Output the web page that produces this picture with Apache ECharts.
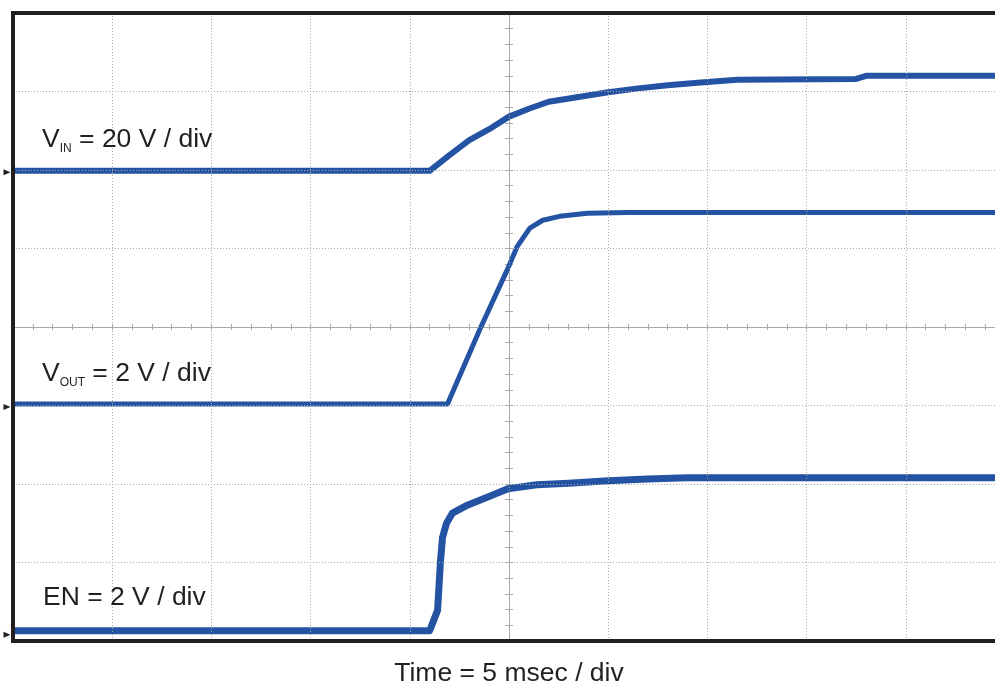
<!DOCTYPE html>
<html>
<head>
<meta charset="utf-8">
<script src="https://cdn.jsdelivr.net/npm/echarts@6/dist/echarts.min.js"></script>
<style>
  html, body { margin: 0; padding: 0; background: #ffffff; }
  #chart { width: 995px; height: 686px; }
</style>
</head>
<body>
<div id="chart"></div>
<script>
// ---- data (time in ms, values in volts) ----
const vinT  = [0, 21.0, 22.0, 23.0, 24.0, 25.0, 26.0, 27.0, 28.5, 30.0, 31.5, 33.0, 34.5, 36.5, 42.5, 43.0, 50];
const vinV  = [0.4, 0.4, 4.4, 8.2, 11.0, 14.2, 16.2, 18.0, 19.2, 20.4, 21.4, 22.2, 22.8, 23.6, 23.8, 24.6, 24.6];

const voutT = [0, 21.9, 23.55, 24.95, 25.4, 26.05, 26.7, 27.55, 28.95, 31.0, 50];
const voutV = [0.08, 0.08, 2.0, 3.54, 4.08, 4.56, 4.76, 4.86, 4.94, 4.96, 4.96];

const enT   = [0, 21.0, 21.4, 21.55, 21.65, 21.85, 22.15, 22.9, 23.9, 24.95, 26.4, 28.0, 30.0, 32.0, 34.0, 50];
const enV   = [0.1, 0.1, 0.62, 1.9, 2.48, 2.84, 3.1, 3.3, 3.5, 3.72, 3.82, 3.86, 3.92, 3.97, 4.0, 4.0];

// channel reference levels (screen divisions) and scales (V / div)
const channelNames  = ['VIN', 'VOUT', 'EN'];
const channelRefDiv = [5.97, 2.98, 0.08];
const channelVPerDiv = [20, 2, 2];

const timePerDiv = 5;      // ms / div
const timeDivs = 10;
const voltDivs = 8;
const xTitle = 'Time = 5 msec / div';

// ---- build ----
function build(t, v, ci) {
  return t.map((tt, i) => [tt, channelRefDiv[ci] + v[i] / channelVPerDiv[ci]]);
}
const traces = [build(vinT, vinV, 0), build(voutT, voutV, 1), build(enT, enV, 2)];

const traceColor = '#2453a4';
const frameColor = '#231f20';
const gridGray = '#a9a9a9';
const font = '"Liberation Sans", Arial, Helvetica, sans-serif';

const GRID = { left: 13, top: 13, width: 992, height: 628 };

const hiddenAxisBits = {
  axisLabel: { show: false },
  splitLine: { show: false }
};

const option = {
  animation: false,
  backgroundColor: '#ffffff',
  grid: {
    left: GRID.left, top: GRID.top, width: GRID.width, height: GRID.height,
    show: false, containLabel: false, outerBoundsMode: 'none'
  },
  xAxis: [
    { // main: dotted grid, bottom frame, title
      type: 'value', min: 0, max: timePerDiv * timeDivs, interval: timePerDiv,
      position: 'bottom', z: 10,
      axisLine: { show: true, onZero: false, lineStyle: { color: frameColor, width: 4, cap: 'square' } },
      axisTick: { show: false }, axisLabel: { show: false },
      splitLine: { show: true, lineStyle: { color: gridGray, width: 1, type: [1, 2] } },
      name: xTitle, nameLocation: 'middle', nameGap: 19,
      nameTextStyle: { fontSize: 26.5, color: frameColor, fontFamily: font }
    },
    { // top frame
      type: 'value', min: 0, max: timePerDiv * timeDivs, position: 'top', z: 10,
      axisLine: { show: true, onZero: false, lineStyle: { color: frameColor, width: 4, cap: 'square' } },
      axisTick: { show: false }, ...hiddenAxisBits
    },
    { // horizontal centre line, ticks inside (up)
      type: 'value', min: 0, max: timePerDiv * timeDivs, interval: 1, position: 'bottom', offset: -GRID.height / 2,
      axisLine: { show: true, onZero: false, lineStyle: { color: gridGray, width: 1 } },
      axisTick: { show: true, inside: true, length: 3, lineStyle: { color: gridGray, width: 1 } },
      ...hiddenAxisBits
    },
    { // horizontal centre line, ticks outside (down)
      type: 'value', min: 0, max: timePerDiv * timeDivs, interval: 1, position: 'bottom', offset: -GRID.height / 2,
      axisLine: { show: false, onZero: false },
      axisTick: { show: true, inside: false, length: 3, lineStyle: { color: gridGray, width: 1 } },
      ...hiddenAxisBits
    }
  ],
  yAxis: [
    { // main: dotted grid, left frame
      type: 'value', min: 0, max: voltDivs, interval: 1, position: 'left', z: 10,
      axisLine: { show: true, onZero: false, lineStyle: { color: frameColor, width: 4, cap: 'square' } },
      axisTick: { show: false }, axisLabel: { show: false },
      splitLine: { show: true, lineStyle: { color: gridGray, width: 1, type: [1, 2] } }
    },
    { // vertical centre line, ticks inside (right)
      type: 'value', min: 0, max: voltDivs, interval: 0.2, position: 'left', offset: -GRID.width / 2,
      axisLine: { show: true, onZero: false, lineStyle: { color: gridGray, width: 1 } },
      axisTick: { show: true, inside: true, length: 4, lineStyle: { color: gridGray, width: 1 } },
      ...hiddenAxisBits
    },
    { // vertical centre line, ticks outside (left)
      type: 'value', min: 0, max: voltDivs, interval: 0.2, position: 'left', offset: -GRID.width / 2,
      axisLine: { show: false, onZero: false },
      axisTick: { show: true, inside: false, length: 4, lineStyle: { color: gridGray, width: 1 } },
      ...hiddenAxisBits
    }
  ],
  series: traces.map((d, ci) => ({
    name: channelNames[ci],
    type: 'line',
    xAxisIndex: 0, yAxisIndex: 0,
    data: d,
    showSymbol: false,
    smooth: false,
    clip: true,
    z: 5,
    lineStyle: { color: traceColor, width: ci === 2 ? 7 : (ci === 0 ? 6 : 5), join: 'round' },
    markPoint: {
      silent: true,
      symbol: 'triangle',
      symbolSize: [6, 7],
      symbolRotate: -90,
      symbolOffset: [-6, 0],
      itemStyle: { color: frameColor },
      label: { show: false },
      data: [{ coord: [0, channelRefDiv[ci]] }]
    }
  })),
  graphic: [
    {
      type: 'text', left: 42, top: 126, z: 20,
      style: {
        text: '{a|V}{s|IN}{a| = 20 V / div}',
        rich: {
          a: { fontSize: 26.5, lineHeight: 30, fontFamily: font, fill: frameColor, color: frameColor },
          s: { fontSize: 12, lineHeight: 12, fontFamily: font, fill: frameColor, color: frameColor, verticalAlign: 'bottom' }
        }
      }
    },
    {
      type: 'text', left: 42, top: 360, z: 20,
      style: {
        text: '{a|V}{s|OUT}{a| = 2 V / div}',
        rich: {
          a: { fontSize: 26.5, lineHeight: 30, fontFamily: font, fill: frameColor, color: frameColor },
          s: { fontSize: 12, lineHeight: 12, fontFamily: font, fill: frameColor, color: frameColor, verticalAlign: 'bottom' }
        }
      }
    },
    {
      type: 'text', left: 43, top: 584, z: 20,
      style: {
        text: '{a|EN = 2 V / div}',
        rich: {
          a: { fontSize: 26.5, lineHeight: 30, fontFamily: font, fill: frameColor, color: frameColor }
        }
      }
    }
  ]
};

const chart = echarts.init(document.getElementById('chart'), null, { renderer: 'canvas' });
chart.setOption(option);
</script>
</body>
</html>
